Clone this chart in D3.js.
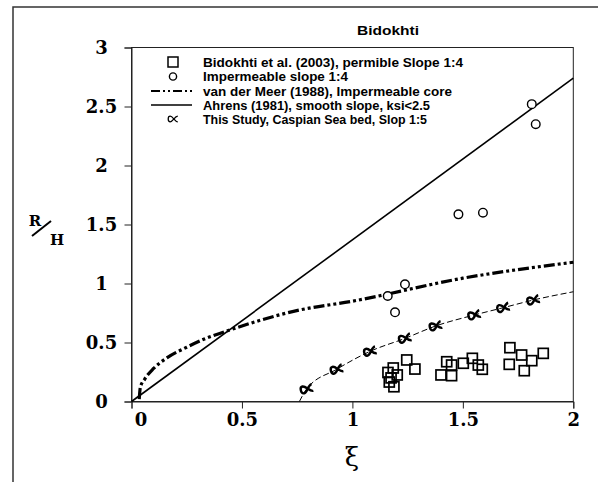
<!DOCTYPE html>
<html>
<head>
  <meta charset="utf-8">
  <script src="https://d3js.org/d3.v7.min.js"></script>
  <style>
  html, body {
    margin: 0px;
    background: #fff;
  }
  .tick text {
    font-family: "DejaVu Serif", serif;
    font-weight: bold;
    font-size: 18px;
    fill: #000;
  }
  .legend text, .title {
    font-family: "Liberation Sans", Arial, sans-serif;
    font-weight: bold;
    font-size: 13.5px;
  }
  </style>
</head>
<body>
  <svg width="598" height="482"></svg>
  <script>

  // values: [xi, R/H]
  var xTicks = [0, 0.5, 1, 1.5, 2];
  var yTicks = [0, 0.5, 1, 1.5, 2, 2.5, 3];

  var bidokhtiPermeable = [
    [1.161, 0.246], [1.185, 0.284], [1.203, 0.225], [1.167, 0.165], [1.188, 0.125],
    [1.175, 0.200], [1.246, 0.352], [1.283, 0.275],
    [1.427, 0.337], [1.449, 0.309], [1.401, 0.225], [1.449, 0.219], [1.502, 0.324],
    [1.543, 0.366], [1.570, 0.309], [1.588, 0.273],
    [1.713, 0.456], [1.766, 0.394], [1.710, 0.315], [1.812, 0.346], [1.778, 0.261],
    [1.864, 0.408]
  ];

  var impermeable = [
    [1.238, 0.993], [1.160, 0.894], [1.193, 0.756],
    [1.480, 1.586], [1.591, 1.600], [1.812, 2.520], [1.830, 2.350]
  ];

  var vanDerMeer = [
    [0.035, 0.02], [0.04, 0.12], [0.06, 0.19], [0.1, 0.28], [0.16, 0.37],
    [0.25, 0.46], [0.33, 0.53], [0.42, 0.59], [0.76, 0.775], [1.0, 0.85],
    [1.5, 1.045], [2.0, 1.18]
  ];

  var ahrens = [[0, 0], [2, 2.74]];

  var thisStudy = [
    [0.793, 0.106], [0.929, 0.273], [1.080, 0.425], [1.238, 0.535],
    [1.377, 0.640], [1.552, 0.733], [1.683, 0.795], [1.819, 0.860]
  ];

  var thisStudyCurve = [
    [0.76, 0], [0.793, 0.106], [0.929, 0.273], [1.080, 0.425], [1.238, 0.535],
    [1.377, 0.640], [1.552, 0.733], [1.683, 0.795], [1.819, 0.860], [2.0, 0.93]
  ];

  var legendLabels = [
    "Bidokhti et al. (2003), permible Slope 1:4",
    "Impermeable slope 1:4",
    "van der Meer (1988), Impermeable core",
    "Ahrens (1981), smooth slope, ksi<2.5",
    "This Study, Caspian Sea bed, Slop 1:5"
  ];
  // printed widths of the legend lines in the original (px)
  var legendWidths = [260, 145, 249, 227, 224];

  // proportional-sign shaped marker
  var propPath = "M6,-3.5C2,-3.5 0,3.5 -3.5,3.5C-5.5,3.5 -6,1.5 -6,0C-6,-1.5 -5.5,-3.5 -3.5,-3.5C0,-3.5 2,3.5 6,3.5";

  var svg = d3.select("svg");

  var x = d3.scaleLinear().domain([0, 2]).range([131.5, 573.3]);
  var y = d3.scaleLinear().domain([0, 3]).range([401.5, 47.5]);

  // outer frame (only top and left visible)
  svg.append("path")
    .attr("d", "M13,482V7H598")
    .attr("fill", "none")
    .attr("stroke", "#333")
    .attr("stroke-width", 1.5);

  // plot box
  svg.append("rect")
    .attr("x", x(0)).attr("y", y(3))
    .attr("width", x(2) - x(0)).attr("height", y(0) - y(3))
    .attr("fill", "none")
    .attr("stroke", "#222")
    .attr("stroke-width", 1);

  var fmt = d3.format("");

  var xAxis = svg.append("g")
    .attr("transform", "translate(0," + y(0) + ")")
    .call(d3.axisBottom(x).tickValues(xTicks).tickSize(7).tickPadding(5).tickFormat(fmt));
  xAxis.select(".domain").attr("stroke", "#222");
  xAxis.selectAll(".tick line").attr("stroke", "#222");
  xAxis.selectAll(".tick text")
    .attr("dy", "0.71em")
    .attr("dx", function(d) { return d === 0 ? 9 : 0; });

  var yAxis = svg.append("g")
    .attr("transform", "translate(" + x(0) + ",0)")
    .call(d3.axisLeft(y).tickValues(yTicks).tickSize(7).tickPadding(0).tickFormat(fmt));
  yAxis.select(".domain").attr("stroke", "#222");
  yAxis.selectAll(".tick line").attr("stroke", "#222");
  yAxis.selectAll(".tick text")
    .attr("text-anchor", "middle")
    .attr("x", -30)
    .attr("dy", "0.36em");

  // axis titles
  svg.append("text")
    .attr("x", 352).attr("y", 466)
    .attr("text-anchor", "middle")
    .style("font-family", "DejaVu Serif, serif")
    .style("font-size", "26px")
    .text("ξ");

  var yLab = svg.append("g")
    .style("font-family", "DejaVu Serif, serif")
    .style("font-weight", "bold")
    .style("font-size", "15px");
  yLab.append("text").attr("x", 35).attr("y", 226).attr("text-anchor", "middle").text("R");
  yLab.append("line")
    .attr("x1", 32).attr("y1", 236).attr("x2", 51).attr("y2", 221)
    .attr("stroke", "#000").attr("stroke-width", 2);
  yLab.append("text").attr("x", 57).attr("y", 245).attr("text-anchor", "middle").text("H");

  // title
  svg.append("text")
    .attr("class", "title")
    .attr("x", 357).attr("y", 35)
    .attr("textLength", 62)
    .attr("lengthAdjust", "spacingAndGlyphs")
    .text("Bidokhti");

  var line = d3.line()
    .x(function(d) { return x(d[0]); })
    .y(function(d) { return y(d[1]); });

  // Ahrens
  svg.append("path")
    .datum(ahrens)
    .attr("d", line)
    .attr("fill", "none")
    .attr("stroke", "#000")
    .attr("stroke-width", 1.6);

  // van der Meer
  svg.append("path")
    .datum(vanDerMeer)
    .attr("d", line.curve(d3.curveMonotoneX))
    .attr("fill", "none")
    .attr("stroke", "#000")
    .attr("stroke-width", 3.2)
    .attr("stroke-dasharray", "11,3,3,3,3,3");

  // this study curve
  svg.append("path")
    .datum(thisStudyCurve)
    .attr("d", line.curve(d3.curveMonotoneX))
    .attr("fill", "none")
    .attr("stroke", "#000")
    .attr("stroke-width", 1)
    .attr("stroke-dasharray", "6,3");

  // squares
  svg.selectAll(".sq")
    .data(bidokhtiPermeable)
    .enter().append("rect")
    .attr("class", "sq")
    .attr("x", function(d) { return x(d[0]) - 5; })
    .attr("y", function(d) { return y(d[1]) - 5; })
    .attr("width", 10).attr("height", 10)
    .attr("fill", "none")
    .attr("stroke", "#000")
    .attr("stroke-width", 1.7);

  // circles
  svg.selectAll(".ci")
    .data(impermeable)
    .enter().append("circle")
    .attr("class", "ci")
    .attr("cx", function(d) { return x(d[0]); })
    .attr("cy", function(d) { return y(d[1]); })
    .attr("r", 4.3)
    .attr("fill", "#fff")
    .attr("stroke", "#000")
    .attr("stroke-width", 1.4);

  // this study markers
  svg.selectAll(".ts")
    .data(thisStudy)
    .enter().append("path")
    .attr("class", "ts")
    .attr("d", propPath)
    .attr("transform", function(d) {
      return "translate(" + x(d[0]) + "," + y(d[1]) + ") rotate(-15)";
    })
    .attr("fill", "none")
    .attr("stroke", "#000")
    .attr("stroke-width", 2.4);

  // legend
  var legend = svg.append("g").attr("class", "legend");
  var rowY = [62, 76.5, 91, 105, 119];

  legend.append("rect")
    .attr("x", 168).attr("y", rowY[0] - 5).attr("width", 10).attr("height", 10)
    .attr("fill", "none").attr("stroke", "#000").attr("stroke-width", 1.5);
  legend.append("circle")
    .attr("cx", 173).attr("cy", rowY[1]).attr("r", 3.6)
    .attr("fill", "none").attr("stroke", "#000").attr("stroke-width", 1.4);
  legend.append("line")
    .attr("x1", 151).attr("x2", 192).attr("y1", rowY[2]).attr("y2", rowY[2])
    .attr("stroke", "#000").attr("stroke-width", 2)
    .attr("stroke-dasharray", "9,3,2,3,2,3");
  legend.append("line")
    .attr("x1", 151).attr("x2", 192).attr("y1", rowY[3]).attr("y2", rowY[3])
    .attr("stroke", "#000").attr("stroke-width", 1.6);
  legend.append("path")
    .attr("d", propPath)
    .attr("transform", "translate(173," + rowY[4] + ") scale(0.8)")
    .attr("fill", "none").attr("stroke", "#000").attr("stroke-width", 1.6);

  legend.selectAll(".lab")
    .data(legendLabels)
    .enter().append("text")
    .attr("class", "lab")
    .attr("x", 203)
    .attr("y", function(d, i) { return rowY[i]; })
    .attr("dy", "0.35em")
    .attr("textLength", function(d, i) { return legendWidths[i]; })
    .attr("lengthAdjust", "spacingAndGlyphs")
    .text(function(d) { return d; });

  </script>
</body>
</html>
